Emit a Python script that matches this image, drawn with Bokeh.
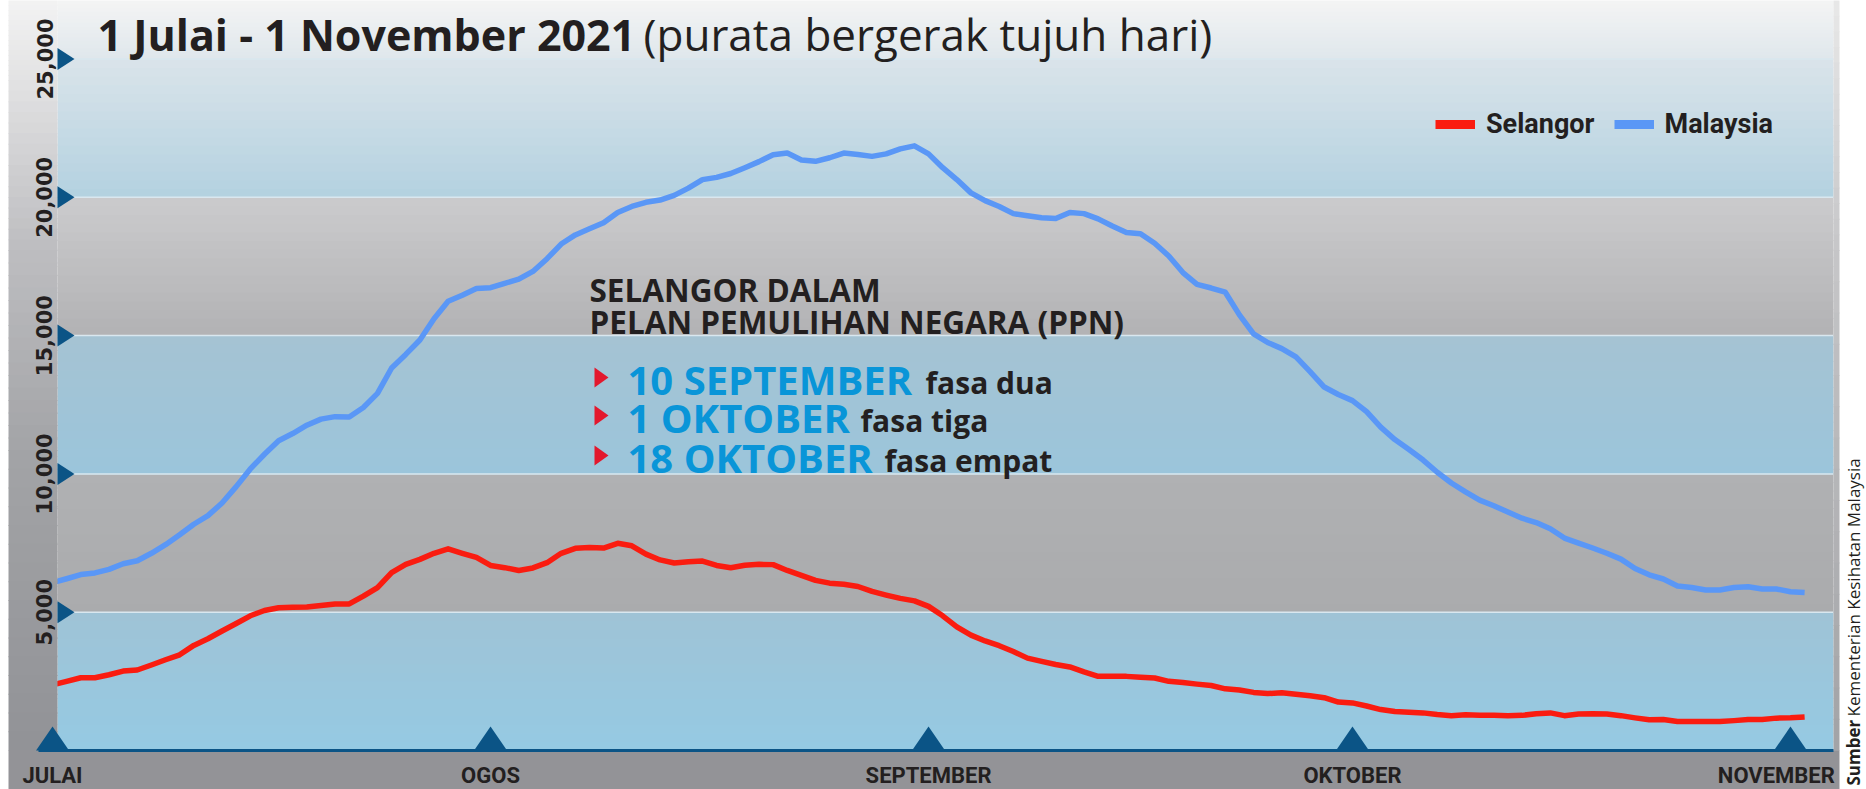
import numpy as np
from bokeh.plotting import figure
from bokeh.models import (Range1d, LinearAxis, FixedTicker, NumeralTickFormatter,
                          Label, Legend, LegendItem)
from bokeh.embed import file_html
from bokeh.resources import INLINE

# ---------------- data (7-day moving average of daily cases) ----------------
day_index = list(range(125))  # days since 1 July 2021
selangor = [2370, 2500, 2630, 2630, 2740, 2870, 2910, 3090, 3280, 3460,
            3800, 4040, 4320, 4590, 4870, 5060, 5160, 5180, 5190, 5240,
            5300, 5300, 5580, 5890, 6430, 6730, 6910, 7130, 7290, 7130,
            6980, 6690, 6610, 6510, 6600, 6790, 7130, 7310, 7340, 7320,
            7490, 7400, 7100, 6890, 6780, 6820, 6850, 6690, 6610, 6700,
            6730, 6720, 6510, 6330, 6150, 6050, 6010, 5930, 5750, 5620,
            5500, 5410, 5210, 4870, 4470, 4170, 3960, 3790, 3580, 3340,
            3220, 3110, 3020, 2840, 2680, 2680, 2680, 2650, 2620, 2500,
            2460, 2400, 2350, 2230, 2190, 2100, 2060, 2090, 2030, 1980,
            1910, 1750, 1720, 1610, 1480, 1410, 1380, 1360, 1300, 1260,
            1290, 1270, 1270, 1260, 1270, 1330, 1360, 1260, 1320, 1330,
            1320, 1260, 1180, 1110, 1120, 1050, 1050, 1050, 1050, 1080,
            1120, 1120, 1170, 1180, 1210]
malaysia = [6070, 6210, 6360, 6420, 6550, 6750, 6860, 7130, 7440, 7800,
            8180, 8490, 8950, 9540, 10180, 10710, 11200, 11460, 11760, 11980,
            12070, 12060, 12400, 12910, 13830, 14320, 14840, 15610, 16240, 16460,
            16700, 16730, 16890, 17040, 17320, 17780, 18310, 18640, 18860, 19080,
            19450, 19670, 19820, 19900, 20070, 20330, 20640, 20720, 20860, 21070,
            21290, 21540, 21600, 21350, 21300, 21430, 21600, 21550, 21480, 21570,
            21750, 21860, 21570, 21070, 20640, 20160, 19880, 19670, 19410, 19330,
            19260, 19230, 19450, 19410, 19220, 18960, 18730, 18680, 18340, 17880,
            17280, 16850, 16720, 16570, 15750, 15060, 14750, 14530, 14230, 13700,
            13140, 12870, 12650, 12250, 11690, 11240, 10880, 10500, 10060, 9670,
            9350, 9050, 8850, 8620, 8400, 8240, 8020, 7680, 7500, 7320,
            7130, 6920, 6580, 6350, 6200, 5950, 5890, 5800, 5800, 5890,
            5920, 5840, 5840, 5740, 5710]
month_days = [0, 31, 62, 92, 123]
month_label_days = [0, 31, 62, 92, 122]
month_names = ["JULAI", "OGOS", "SEPTEMBER", "OKTOBER", "NOVEMBER"]
y_ticks = [5000, 10000, 15000, 20000, 25000]

# ---------------- layout ----------------
W, H = 1866, 789
X0_PX, PX_PER_DAY = 52.0, 14.13
Y0_PX, PX_PER_CASE = 750.0, 27.66 / 1000.0
PLOT_L, PLOT_R = 57, 1833

RED = "#fa1c10"
BLUE = "#5a97f6"
DARK = "#231f20"
NAVY = "#0b5486"
CYAN = "#0995d8"


def px2x(px):
    return (px - X0_PX) / PX_PER_DAY


def py2y(py):
    return (Y0_PX - py) / PX_PER_CASE


def mix(c0, c1, t):
    a = [int(c0[i:i + 2], 16) for i in (1, 3, 5)]
    b = [int(c1[i:i + 2], 16) for i in (1, 3, 5)]
    return "#%02x%02x%02x" % tuple(int(round(a[j] + (b[j] - a[j]) * t)) for j in range(3))


p = figure(width=W, height=H,
           x_range=Range1d(px2x(0), px2x(W)), y_range=Range1d(py2y(H), py2y(0)),
           x_axis_type=None, y_axis_type=None, toolbar_location=None,
           output_backend="svg", min_border=0, outline_line_color=None,
           background_fill_color="white", border_fill_color="white")


def gradient(x0, x1, stops, n=16):
    L, R, B, T, C = [], [], [], [], []
    for (pa, ca), (pb, cb) in zip(stops[:-1], stops[1:]):
        for i in range(n):
            ya = pa + (pb - pa) * i / n
            yb = pa + (pb - pa) * (i + 1) / n
            L.append(px2x(x0))
            R.append(px2x(x1))
            B.append(py2y(max(ya, yb) + 0.4))
            T.append(py2y(min(ya, yb) - 0.4))
            C.append(mix(ca, cb, (i + 0.5) / n))
    p.quad(left=L, right=R, bottom=B, top=T, fill_color=C, line_color=None)


def vpx(v):
    return Y0_PX - v * PX_PER_CASE


# plot-area bands
bands = [
    (0, 5000, "#95cae3", "#9fc3d6"),
    (5000, 10000, "#aaabad", "#b0b1b3"),
    (10000, 15000, "#9bc5db", "#a5c3d3"),
    (15000, 20000, "#b2b2b4", "#cbcbcd"),
    (20000, 25000, "#b3d1e0", "#dae4ea"),
]
for lo, hi, c0, c1 in bands:
    gradient(PLOT_L, PLOT_R, [(vpx(lo), c0), (vpx(hi), c1)])
gradient(PLOT_L, PLOT_R, [(vpx(25000), "#dfe7ec"), (0, "#f4f4f4")])

# grid lines
p.segment(x0=[px2x(PLOT_L)] * len(y_ticks), x1=[px2x(PLOT_R)] * len(y_ticks),
          y0=y_ticks, y1=y_ticks, line_color="#d9e7ef", line_width=1.5)

# data lines
p.line(day_index, malaysia, line_color=BLUE, line_width=5.5, line_join="round")
p.line(day_index, selangor, line_color=RED, line_width=5.5, line_join="round")

# frame pieces
col_stops = [(0, "#f3f3f3"), (80, "#e2e2e3"), (250, "#bdbdc0"),
             (450, "#a3a4a7"), (750, "#919296")]
gradient(8, PLOT_L, col_stops)
gradient(PLOT_R, 1839, [(0, "#e8e8e8"), (250, "#c6c6c8"), (750, "#a2a3a6")])
p.quad(left=[px2x(8)], right=[px2x(1839)], bottom=[py2y(H)], top=[py2y(Y0_PX)],
       fill_color="#939397", line_color=None)

# baseline and tick triangles
p.segment(x0=[px2x(38)], x1=[px2x(PLOT_R)], y0=[0], y1=[0], line_color=NAVY, line_width=3)
hw = 16.5 / PX_PER_DAY
th = 24 / PX_PER_CASE
p.patches(xs=[[d - hw, d, d + hw] for d in month_days],
          ys=[[0, th, 0] for _ in month_days], fill_color=NAVY, line_color=None)
tw = 17 / PX_PER_DAY
thh = 11 / PX_PER_CASE
xl = px2x(PLOT_L)
p.patches(xs=[[xl, xl + tw, xl] for _ in y_ticks],
          ys=[[v - thh, v, v + thh] for v in y_ticks], fill_color=NAVY, line_color=None)

# axes
yaxis = LinearAxis(fixed_location=px2x(PLOT_L), ticker=FixedTicker(ticks=y_ticks),
                   formatter=NumeralTickFormatter(format="0,0"),
                   axis_line_color=None, major_tick_line_color=None,
                   minor_tick_line_color=None, major_tick_out=0, major_tick_in=0,
                   major_label_orientation="vertical", major_label_standoff=5,
                   major_label_text_font="DejaVu Sans", major_label_text_font_style="bold",
                   major_label_text_font_size="21px", major_label_text_color=DARK)
p.add_layout(yaxis, "left")
xaxis = LinearAxis(fixed_location=0, ticker=FixedTicker(ticks=month_label_days),
                   major_label_overrides={d: n for d, n in zip(month_label_days, month_names)},
                   axis_line_color=None, major_tick_line_color=None,
                   minor_tick_line_color=None, major_tick_out=0, major_tick_in=0,
                   major_label_standoff=12,
                   major_label_text_font="Roboto", major_label_text_font_style="bold",
                   major_label_text_font_size="22px", major_label_text_color=DARK)
p.add_layout(xaxis, "below")

# legend (proxy glyphs lie outside the visible range)
prox_s = p.line(x=[-1000, -999], y=[0, 0], line_color=RED, line_width=9)
prox_m = p.line(x=[-1000, -999], y=[0, 0], line_color=BLUE, line_width=9)
legend = Legend(items=[LegendItem(label="Selangor", renderers=[prox_s]),
                       LegendItem(label="Malaysia", renderers=[prox_m])],
                orientation="horizontal", location=(1435, H - 123.5 - 16),
                padding=0, margin=0, spacing=19, label_standoff=11,
                glyph_width=40, glyph_height=32, label_height=32,
                label_text_font="Roboto", label_text_font_style="bold",
                label_text_font_size="27px", label_text_color=DARK,
                background_fill_alpha=0, border_line_color=None)
p.add_layout(legend)

SHIFT = 0.33


def label(x, ybase, text, size, style="bold", color=DARK, font="Open Sans", angle=0.0):
    s = float(size.replace("px", ""))
    if angle == 0.0:
        ybase = ybase - SHIFT * s
    else:
        x = x - SHIFT * s
    p.add_layout(Label(x=x, y=H - ybase, x_units="screen", y_units="screen", text=text,
                       text_font=font, text_font_style=style, text_font_size=size,
                       text_color=color, text_baseline="alphabetic", text_align="left",
                       angle=angle))


# title
label(97, 48, "1 Julai - 1 November 2021", "43px")
label(643, 48, "(purata bergerak tujuh hari)", "44px", style="normal")

# annotation block
label(589, 299, "SELANGOR DALAM", "31.5px")
label(589, 331, "PELAN PEMULIHAN NEGARA (PPN)", "31.5px")
rows = [(392, "10 SEPTEMBER", 925, "fasa dua"),
        (430, "1 OKTOBER", 860, "fasa tiga"),
        (470, "18 OKTOBER", 884, "fasa empat")]
bx, by = [], []
for base, big, sx, small in rows:
    label(627, base, big, "40px", color=CYAN)
    label(sx, base, small, "30px")
    cy = base - 15
    bx.append([px2x(594), px2x(608), px2x(594)])
    by.append([py2y(cy - 10), py2y(cy), py2y(cy + 10)])
p.patches(xs=bx, ys=by, fill_color="#e3182d", line_color=None)

# source (rotated)
label(1859, H - 4, "Sumber", "17px", angle=np.pi / 2)
label(1859, H - 73, "Kementerian Kesihatan Malaysia", "17px", style="normal", angle=np.pi / 2)

open("out.html", "w").write(file_html(p, INLINE))
